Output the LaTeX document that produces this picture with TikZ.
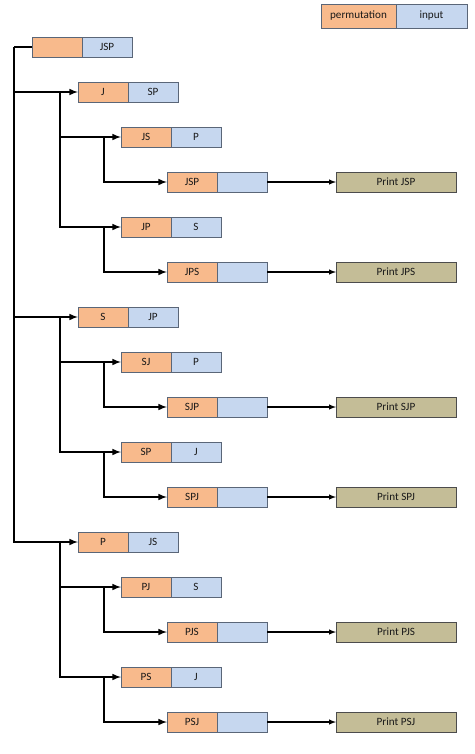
\documentclass[tikz,border=0pt]{standalone}
\usepackage{fontspec}
\setmainfont{Carlito}
\usetikzlibrary{arrows,positioning}
\definecolor{permcol}{HTML}{F8BA8C}
\definecolor{inpcol}{HTML}{C6D7EF}
\definecolor{printcol}{HTML}{C4BD97}
\definecolor{edgecol}{HTML}{5A6678}

\begin{document}
\begin{tikzpicture}[x=0.03cm, y=-0.03cm, >=latex,
	cell/.style={draw=edgecol, inner sep=0pt, outer sep=0pt, minimum width=1.5cm, minimum height=0.6cm, font=\fontsize{9.5}{10}\selectfont, text=black!90},
	perm/.style={cell, fill=permcol, anchor=west},
	inp/.style={cell, fill=inpcol},
	prt/.style={cell, fill=printcol, draw=gray!60!black, minimum width=3.6cm, anchor=west},
	link/.style={->, line width=1.5pt},
	plink/.style={->, line width=1pt}]
	\useasboundingbox (0,0) rectangle (474,754);

	% legend
	\node[perm, minimum width=2.25cm, minimum height=0.72cm] (leg-p) at (321,16) {permutation};
	\node[inp, minimum width=2.13cm, minimum height=0.72cm, right=0pt of leg-p] (leg-i) {input};

	% root
	\node[perm] (root-p) at (32,47) {};
	\node[inp, right=0pt of root-p] (root-i) {JSP};
	\coordinate (trunk) at (14,47);
	\coordinate (b1) at (60,0);
	\coordinate (b2) at (104,0);
	\draw[line width=1.5pt] (root-p.west) -- (trunk);

	\foreach \a/\b/\c [count=\i from 0] in {J/S/P, S/J/P, P/J/S} {
		\pgfmathsetmacro\y{92+225*\i}
		\node[perm] (l1p-\i) at (78,\y) {\a};
		\node[inp, right=0pt of l1p-\i] (l1i-\i) {\b\c};
		\node[perm] (l2p-\i) at (121,\y+45) {\a\b};
		\node[inp, right=0pt of l2p-\i] (l2i-\i) {\c};
		\node[perm] (l3p-\i) at (167,\y+90) {\a\b\c};
		\node[inp, right=0pt of l3p-\i] (l3i-\i) {};
		\node[prt] (l3o-\i) at (336,\y+90) {Print \a\b\c};
		\node[perm] (l4p-\i) at (121,\y+135) {\a\c};
		\node[inp, right=0pt of l4p-\i] (l4i-\i) {\b};
		\node[perm] (l5p-\i) at (167,\y+180) {\a\c\b};
		\node[inp, right=0pt of l5p-\i] (l5i-\i) {};
		\node[prt] (l5o-\i) at (336,\y+180) {Print \a\c\b};

		\draw[link] (trunk) |- (l1p-\i.west);
		\draw[link] (l1p-\i.west -| b1) |- (l2p-\i.west);
		\draw[link] (l1p-\i.west -| b1) |- (l4p-\i.west);
		\draw[link] (l2p-\i.west -| b2) |- (l3p-\i.west);
		\draw[link] (l4p-\i.west -| b2) |- (l5p-\i.west);
		\draw[plink] (l3i-\i.east) -- (l3o-\i.west);
		\draw[plink] (l5i-\i.east) -- (l5o-\i.west);
	}
\end{tikzpicture}
\end{document}
